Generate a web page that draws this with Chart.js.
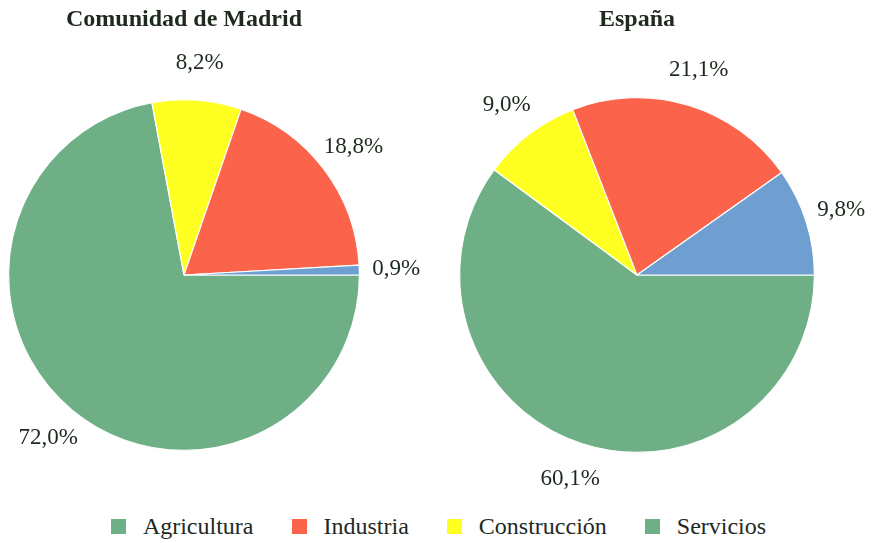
<!DOCTYPE html>
<html>
<head>
<meta charset="utf-8">
<script src="https://cdn.jsdelivr.net/npm/chart.js@4/dist/chart.umd.min.js"></script>
<style>
  body { margin: 0; background: #fff; width: 877px; height: 543px; position: relative; overflow: hidden; }
  .box { position: absolute; top: 0; height: 500px; }
  #legend { position: absolute; left: 0; top: 511px; width: 877px; text-align: center; white-space: nowrap;
    font-family: "Liberation Serif", serif; font-size: 24px; line-height: 30px; color: #1e2a1e; }
  #legend span.item { margin: 0 19px; }
  #legend span.sw { display: inline-block; width: 15px; height: 15px; margin-right: 17px; vertical-align: 0px; }
</style>
</head>
<body>
<div class="box" style="left:0;width:440px"><canvas id="madrid"></canvas></div>
<div class="box" style="left:440px;width:437px"><canvas id="espana"></canvas></div>
<div id="legend"></div>
<script>
// sectores, en orden de la leyenda
const sectores = ['Agricultura', 'Industria', 'Construcción', 'Servicios'];
const madrid = [0.9, 18.8, 8.2, 72.0];
const espana = [9.8, 21.1, 9.0, 60.1];
const coloresSector = ['#6f9fd0', '#fb644a', '#ffff22', '#6faf86'];
// la leyenda del original pone Agricultura en verde
const coloresLeyenda = ['#6faf86', '#fb644a', '#ffff22', '#6faf86'];

// el pastel va en sentido antihorario desde las 3, asi que se invierte el orden
const rev = a => a.slice().reverse();

const etiquetas = {
  id: 'etiquetas',
  afterDraw(chart, args, opts) {
    const ctx = chart.ctx;
    const meta = chart.getDatasetMeta(0);
    const data = chart.data.datasets[0].data;
    ctx.save();
    ctx.fillStyle = '#1e2a1e';
    ctx.textAlign = 'center';
    ctx.textBaseline = 'middle';
    ctx.font = '23px "Liberation Serif"';
    meta.data.forEach((arc, i) => {
      const p = arc.getProps(['x', 'y', 'startAngle', 'endAngle', 'outerRadius'], true);
      const mid = (p.startAngle + p.endAngle) / 2;
      const r = p.outerRadius + 37;
      const txt = data[i].toFixed(1).replace('.', ',') + '%';
      ctx.fillText(txt, p.x + Math.cos(mid) * r, p.y + Math.sin(mid) * r);
    });
    const c = meta.data[0];
    ctx.font = 'bold 24px "Liberation Serif"';
    ctx.fillText(opts.titulo, c.x, 20);
    ctx.restore();
  }
};

function pastel(id, valores, titulo, padding) {
  new Chart(document.getElementById(id), {
    type: 'pie',
    data: {
      labels: rev(sectores),
      datasets: [{
        data: rev(valores),
        backgroundColor: rev(coloresSector),
        borderColor: '#ffffff',
        borderWidth: 1.2
      }]
    },
    options: {
      responsive: true,
      maintainAspectRatio: false,
      animation: false,
      rotation: 90,
      layout: { padding: padding },
      plugins: {
        legend: { display: false },
        tooltip: { enabled: false },
        etiquetas: { titulo: titulo }
      }
    },
    plugins: [etiquetas]
  });
}

pastel('madrid', madrid, 'Comunidad de Madrid', { left: 8, right: 80, top: 99, bottom: 49 });
pastel('espana', espana, 'España', { left: 18, right: 61, top: 97, bottom: 47 });

const leg = document.getElementById('legend');
sectores.forEach((s, i) => {
  const it = document.createElement('span');
  it.className = 'item';
  it.innerHTML = '<span class="sw" style="background:' + coloresLeyenda[i] + '"></span>' + s;
  leg.appendChild(it);
});
</script>
</body>
</html>
